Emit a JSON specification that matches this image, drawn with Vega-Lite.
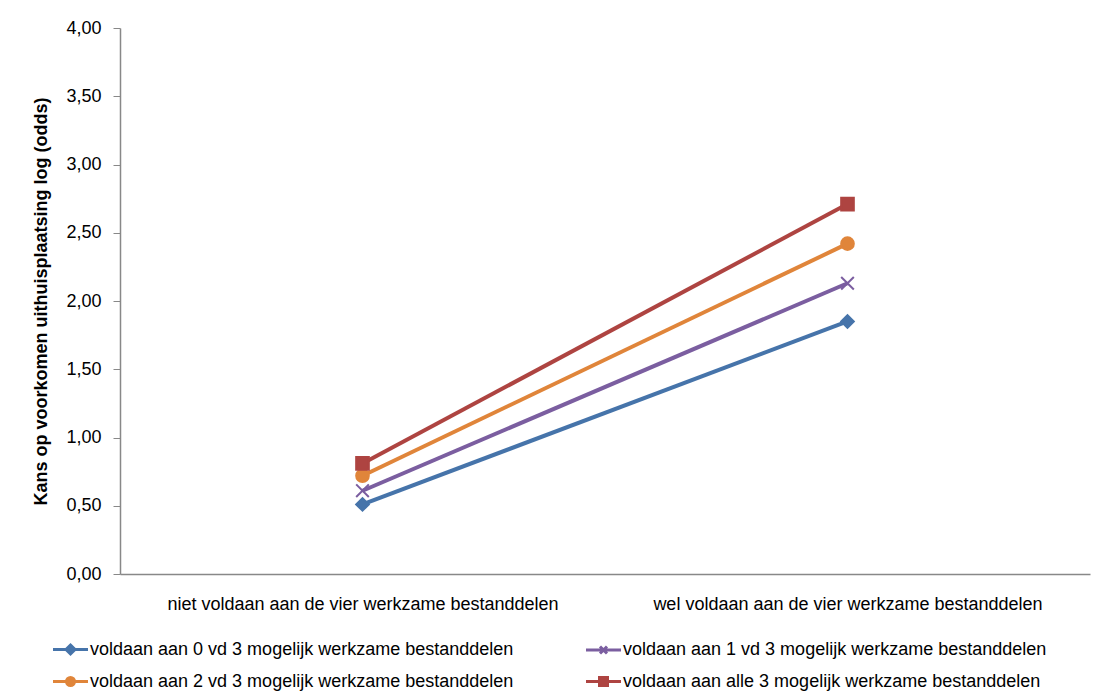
{
  "$schema": "https://vega.github.io/schema/vega-lite/v6.json",
  "width": 970,
  "height": 546,
  "autosize": {"type": "none"},
  "padding": {"left": 120, "top": 28, "right": 10, "bottom": 126},
  "background": "white",
  "config": {
    "view": {"stroke": null},
    "font": "Liberation Sans",
    "axis": {"grid": false, "domainColor": "#888888", "domainWidth": 1.5, "tickColor": "#888888", "labelColor": "#000000", "labelFont": "Liberation Sans", "labelFontSize": 18, "labelLimit": 600}
  },
  "data": {
    "values": [
      {"reeks": "voldaan aan 0 vd 3 mogelijk werkzame bestanddelen", "situatie": "niet voldaan aan de vier werkzame bestanddelen", "kans": 0.51},
      {"reeks": "voldaan aan 0 vd 3 mogelijk werkzame bestanddelen", "situatie": "wel voldaan aan de vier werkzame bestanddelen", "kans": 1.85},
      {"reeks": "voldaan aan 1 vd 3 mogelijk werkzame bestanddelen", "situatie": "niet voldaan aan de vier werkzame bestanddelen", "kans": 0.61},
      {"reeks": "voldaan aan 1 vd 3 mogelijk werkzame bestanddelen", "situatie": "wel voldaan aan de vier werkzame bestanddelen", "kans": 2.13},
      {"reeks": "voldaan aan 2 vd 3 mogelijk werkzame bestanddelen", "situatie": "niet voldaan aan de vier werkzame bestanddelen", "kans": 0.72},
      {"reeks": "voldaan aan 2 vd 3 mogelijk werkzame bestanddelen", "situatie": "wel voldaan aan de vier werkzame bestanddelen", "kans": 2.42},
      {"reeks": "voldaan aan alle 3 mogelijk werkzame bestanddelen", "situatie": "niet voldaan aan de vier werkzame bestanddelen", "kans": 0.81},
      {"reeks": "voldaan aan alle 3 mogelijk werkzame bestanddelen", "situatie": "wel voldaan aan de vier werkzame bestanddelen", "kans": 2.71}
    ]
  },
  "encoding": {
    "x": {
      "field": "situatie", "type": "nominal", "sort": null,
      "scale": {"type": "point", "padding": 0.5},
      "axis": {"title": null, "ticks": false, "labelAngle": 0, "labelPadding": 21}
    },
    "y": {
      "field": "kans", "type": "quantitative",
      "scale": {"domain": [0, 4], "nice": false},
      "axis": {
        "title": "Kans op voorkomen uithuisplaatsing log (odds)",
        "titleFont": "Liberation Sans", "titleFontSize": 18, "titleFontWeight": "bold", "titleColor": "#000000",
        "titlePadding": 15,
        "values": [0, 0.5, 1, 1.5, 2, 2.5, 3, 3.5, 4],
        "labelExpr": "replace(format(datum.value, '.2f'), '.', ',')",
        "tickSize": 7, "labelPadding": 12
      }
    },
    "color": {
      "field": "reeks", "type": "nominal",
      "scale": {"range": ["#4674AA", "#7B5EA0", "#E0853A", "#AE4441"]}
    }
  },
  "layer": [
    {
      "mark": {"type": "line", "strokeWidth": 4},
      "encoding": {
        "color": {
          "field": "reeks", "type": "nominal",
          "legend": {
            "title": null,
            "orient": "none",
            "direction": "horizontal",
            "legendX": -61,
            "legendY": 610,
            "columns": 2,
            "columnPadding": 66,
            "rowPadding": 10,
            "symbolSize": 400,
            "symbolStrokeWidth": 3,
            "labelFont": "Liberation Sans",
            "labelFontSize": 18,
            "labelColor": "#000000",
            "labelOffset": 8,
            "labelLimit": 600,
            "encode": {
              "symbols": {
                "update": {
                  "shape": {"signal": "'M-1.75,0H1.75' + (indexof(datum.value, ' 0 vd') > 0 ? 'M0,-0.45L0.45,0L0,0.45L-0.45,0Z' : indexof(datum.value, ' 1 vd') > 0 ? 'M-0.35,-0.35L0.35,0.35M-0.35,0.35L0.35,-0.35' : indexof(datum.value, ' 2 vd') > 0 ? 'M-0.4,0A0.4,0.4 0 1,0 0.4,0A0.4,0.4 0 1,0 -0.4,0Z' : 'M-0.4,-0.4H0.4V0.4H-0.4Z')"},
                  "fill": {"signal": "scale('color', datum.value)"},
                  "stroke": {"signal": "scale('color', datum.value)"},
                  "strokeWidth": {"value": 3},
                  "opacity": {"value": 1}
                }
              }
            }
          }
        }
      }
    },
    {
      "mark": {"type": "point", "filled": false, "opacity": 1, "strokeWidth": 2},
      "encoding": {
        "shape": {
          "field": "reeks", "type": "nominal", "legend": null,
          "scale": {"range": ["diamond", "M-1,-1L1,1M-1,1L1,-1", "circle", "square"]}
        },
        "fill": {
          "field": "reeks", "type": "nominal", "legend": null,
          "scale": {"range": ["#4674AA", "transparent", "#E0853A", "#AE4441"]}
        },
        "size": {"value": 160}
      }
    }
  ]
}
